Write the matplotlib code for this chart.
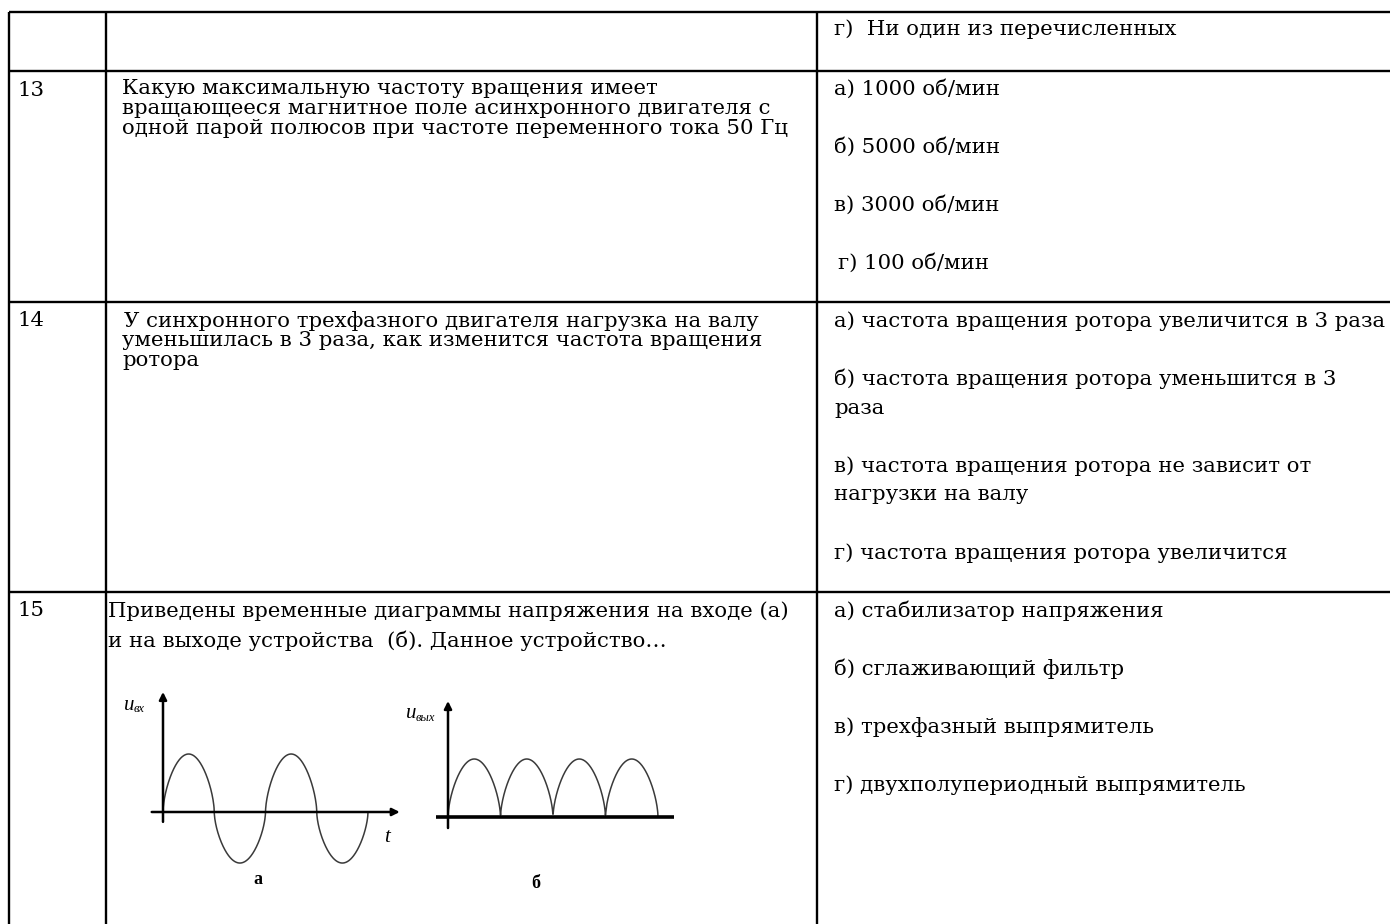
import matplotlib.pyplot as plt
import numpy as np

W, H = 1390, 924

# table grid (pixel positions of the ruling lines)
col_x = [9, 106, 817]
row_y = [12, 71, 302, 592]

numbers = ["13", "14", "15"]
number_y = [90, 321, 611]

# question text: (text, x, y)
questions = [
    ("Какую максимальную частоту вращения имеет", 122, 89),
    ("вращающееся магнитное поле асинхронного двигателя с", 122, 109),
    ("одной парой полюсов при частоте переменного тока 50 Гц", 122, 129),
    ("У синхронного трехфазного двигателя нагрузка на валу", 124, 321),
    ("уменьшилась в 3 раза, как изменится частота вращения", 122, 341),
    ("ротора", 122, 361),
    ("Приведены временные диаграммы напряжения на входе (а)", 108, 611),
    ("и на выходе устройства  (б). Данное устройство…", 108, 641),
]

answers = [
    ("г)  Ни один из перечисленных", 834, 29),
    ("а) 1000 об/мин", 834, 89),
    ("б) 5000 об/мин", 834, 147),
    ("в) 3000 об/мин", 834, 205),
    ("г) 100 об/мин", 838, 263),
    ("а) частота вращения ротора увеличится в 3 раза", 834, 321),
    ("б) частота вращения ротора уменьшится в 3", 834, 379),
    ("раза", 834, 408),
    ("в) частота вращения ротора не зависит от", 834, 466),
    ("нагрузки на валу", 834, 495),
    ("г) частота вращения ротора увеличится", 834, 553),
    ("а) стабилизатор напряжения", 834, 611),
    ("б) сглаживающий фильтр", 834, 669),
    ("в) трехфазный выпрямитель", 834, 727),
    ("г) двухполупериодный выпрямитель", 834, 785),
]

# waveform diagrams
in_periods = 2          # input: two full sine periods
in_neg_ratio = 0.88     # negative half-wave drawn slightly smaller
out_halfwaves = 4       # output: four rectified half-waves
wave_round = 0.6        # <1 makes the hand-drawn humps rounder

FONT = "DejaVu Serif"
FS = 15.3

fig = plt.figure(figsize=(W / 100, H / 100), dpi=100)
ax = fig.add_axes([0, 0, 1, 1])
ax.set_xlim(0, W)
ax.set_ylim(H, 0)
ax.axis("off")

for x in col_x:
    ax.plot([x, x], [row_y[0], H], color="black", lw=1.7, solid_capstyle="butt")
for y in row_y:
    ax.plot([col_x[0], W], [y, y], color="black", lw=1.7, solid_capstyle="butt")

for n, y in zip(numbers, number_y):
    ax.text(17, y, n, fontsize=FS, family=FONT, va="center", ha="left")
for t, x, y in questions + answers:
    ax.text(x, y, t, fontsize=FS, family=FONT, va="center", ha="left")


def inset(left, top, right, bottom, ox, oy, sx, sy):
    # axes placed by pixel box, data units scaled so origin sits at (ox, oy)
    a = fig.add_axes([left / W, 1 - bottom / H, (right - left) / W, (bottom - top) / H])
    a.set_xlim((left - ox) / sx, (right - ox) / sx)
    a.set_ylim((oy - bottom) / sy, (oy - top) / sy)
    a.axis("off")
    return a


arrow = dict(arrowstyle="-|>", lw=1.8, color="black", mutation_scale=11,
             shrinkA=0, shrinkB=0)

# diagram a: input sine
a1 = inset(140, 685, 410, 875, 163, 812, 102.5, 58)
t = np.linspace(0, in_periods, 800)
s = np.sin(2 * np.pi * t)
u = np.sign(s) * np.abs(s) ** wave_round
u = np.where(u > 0, u, u * in_neg_ratio)
a1.plot(t, u, color="#3a3a3a", lw=1.1)
a1.annotate("", xy=(2.31, 0), xytext=(-0.11, 0), arrowprops=arrow)
a1.annotate("", xy=(0, 2.07), xytext=(0, -0.17), arrowprops=arrow)

# diagram b: full-wave rectified output
a2 = inset(430, 685, 680, 875, 448, 817, 52.5, 58)
t2 = np.linspace(0, out_halfwaves, 1000)
a2.plot(t2, np.abs(np.sin(np.pi * t2)) ** wave_round, color="#3a3a3a", lw=1.1)
a2.plot([-0.23, 4.3], [0, 0], color="black", lw=2.6, solid_capstyle="butt")
a2.annotate("", xy=(0, 2.0), xytext=(0, -0.19), arrowprops=arrow)

# diagram labels
LF = "Liberation Serif"
ax.text(124, 705, "u", fontsize=15, family=LF, style="italic", va="center")
ax.text(134, 709, "вх", fontsize=9, family=LF, style="italic", va="center")
ax.text(406, 714, "u", fontsize=15, family=LF, style="italic", va="center")
ax.text(416, 718, "вых", fontsize=9, family=LF, style="italic", va="center")
ax.text(384, 837, "t", fontsize=15, family=LF, style="italic", va="center")
ax.text(258, 880, "а", fontsize=13, family=LF, weight="bold", va="center", ha="center")
ax.text(536, 883, "б", fontsize=13, family=LF, weight="bold", va="center", ha="center")

fig.savefig("out.png", dpi=100)
